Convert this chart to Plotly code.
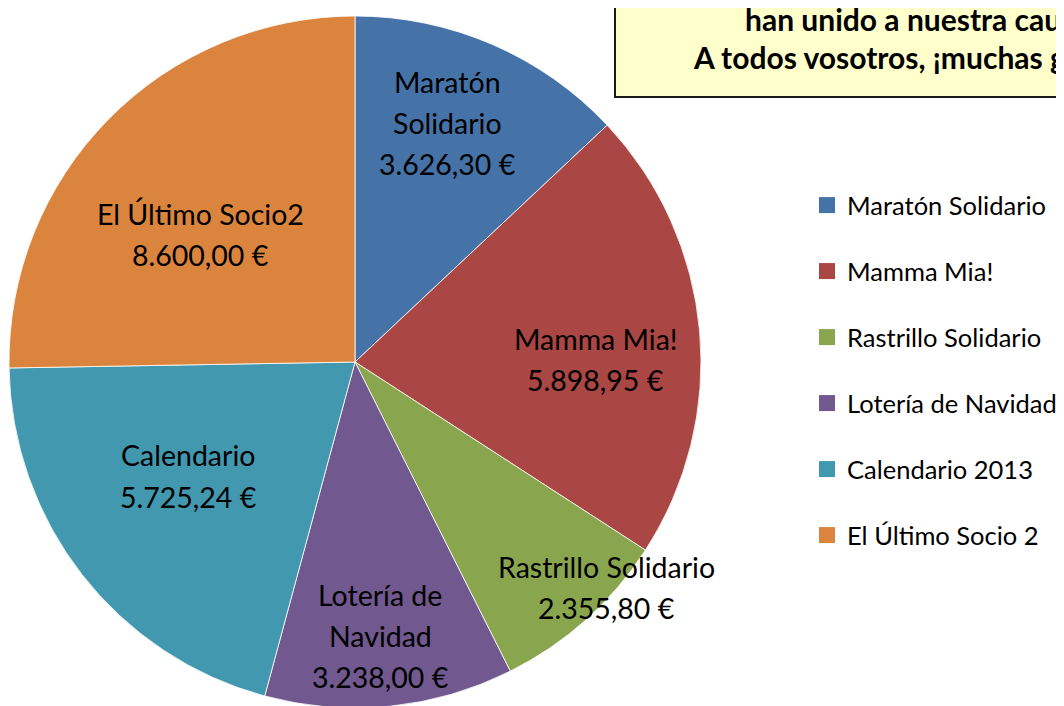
import plotly.graph_objects as go

# ---- data ----
legend_names = ["Maratón Solidario", "Mamma Mia!", "Rastrillo Solidario",
                "Lotería de Navidad", "Calendario 2013", "El Último Socio 2"]
slice_names = ["Maratón<br>Solidario", "Mamma Mia!", "Rastrillo Solidario",
               "Lotería de<br>Navidad", "Calendario", "El Último Socio2"]
# amounts as printed on the slice labels
label_amounts = ["3.626,30 €", "5.898,95 €", "2.355,80 €",
                 "3.238,00 €", "5.725,24 €", "8.600,00 €"]
# slice sizes as drawn in the picture (the last slice is drawn smaller than its label says)
values = [3626.30, 5898.95, 2355.80, 3238.00, 5725.24, 7050.00]
box_lines = ["han unido a nuestra causa.", "A todos vosotros, ¡muchas gracias!"]

# ---- styles / layout ----
colors = ["#4572A7", "#AA4643", "#89A54E", "#71588F", "#4198AF", "#DB843D"]
W, H = 1064, 706
OFF = 8  # page body margin
LINE_GAP = 41
# label block centres in window pixels (layout only)
label_pos = [(447, 123), (595, 359), (606, 587), (380, 636), (188, 476), (200, 235)]
box_text_pos = [(743, 19), (691, 57)]


def px(x):
    return (x - OFF) / W


def py(y):
    return 1 - (y - OFF) / H


fig = go.Figure()
fig.add_trace(go.Pie(
    labels=legend_names, values=values, sort=False, direction="clockwise",
    rotation=0, textinfo="none", hoverinfo="label",
    marker=dict(colors=colors, line=dict(color="rgba(255,255,255,0.8)", width=1)),
    domain=dict(x=[px(9), px(701)], y=[py(708), py(16)]),
    showlegend=False,
))

# legend entries (square markers)
for i, (name, c) in enumerate(zip(legend_names, colors)):
    fig.add_trace(go.Scatter(
        x=[None], y=[None], mode="markers", name=name, legendgroup=f"g{i}",
        marker=dict(symbol="square", size=16, color=c), hoverinfo="skip",
    ))

annotations = []
for name, amt, (x, y) in zip(slice_names, label_amounts, label_pos):
    lines = name.split("<br>") + [amt]
    n = len(lines)
    for i, ln in enumerate(lines):
        yy = y + (i - (n - 1) / 2) * LINE_GAP
        annotations.append(dict(
            x=px(x), y=py(yy), xref="paper", yref="paper", showarrow=False,
            text=ln, xanchor="center", yanchor="middle",
            font=dict(family="Lato", size=28.5, color="black"),
        ))
for line, (x, y) in zip(box_lines, box_text_pos):
    annotations.append(dict(
        x=px(x), y=py(y), xref="paper", yref="paper", showarrow=False,
        text=f"<b>{line}</b>", xanchor="left", yanchor="middle",
        font=dict(family="Lato", size=30, color="black"),
    ))

fig.update_layout(
    width=W, height=H, margin=dict(l=0, r=0, t=0, b=0),
    paper_bgcolor="white", plot_bgcolor="white",
    xaxis=dict(visible=False), yaxis=dict(visible=False),
    shapes=[dict(type="rect", xref="paper", yref="paper",
                 x0=px(615), x1=1.1, y0=py(97), y1=1.1,
                 fillcolor="#FFFFCC", line=dict(color="#1a1a1a", width=2), layer="below")],
    annotations=annotations,
    legend=dict(x=px(807), y=py(182), xanchor="left", yanchor="top",
                traceorder="grouped", tracegroupgap=29.85, itemwidth=30,
                font=dict(family="Lato", size=25.5, color="black"),
                bgcolor="rgba(0,0,0,0)"),
    showlegend=True,
)

fig.write_html("out.html")
